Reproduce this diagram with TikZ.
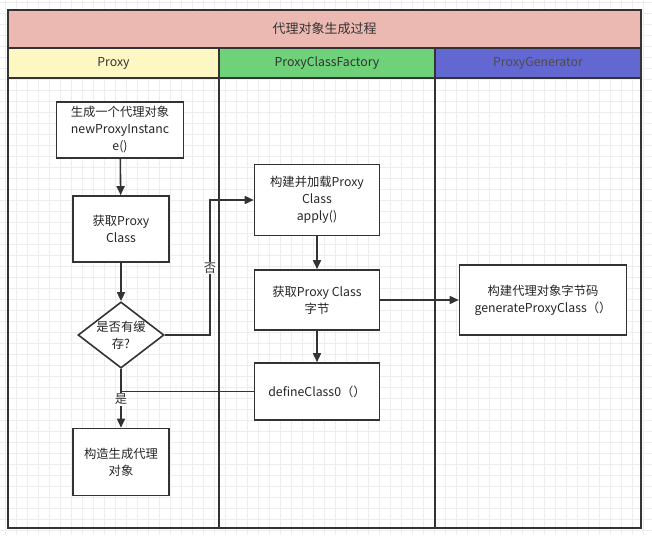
\documentclass[tikz,border=0pt]{standalone}
\usepackage{fontspec}
\setmainfont{Noto Sans CJK SC}
\usetikzlibrary{shapes.geometric,arrows.meta}

\begin{document}
\begin{tikzpicture}[x=1pt,y=-1pt,font=\fontsize{12.3}{17}\selectfont,align=center,
 box/.style={draw=black!80,line width=1.6pt,fill=white,inner sep=0pt,text=black!85},
 decision/.style={diamond,aspect=1.3,draw=black!80,line width=1.6pt,fill=white,inner sep=0pt,text=black!85},
 flow/.style={-{Triangle[length=9pt,width=8pt]},line width=1.6pt,draw=black!80},
 link/.style={line width=1.6pt,draw=black!80},
 lanehead/.style={draw=black!80,line width=1.6pt,inner sep=0pt,minimum height=30,text=black!80},
 lane/.style={draw=black!80,line width=1.6pt},
 gridline/.style={draw=black!7,line width=.6pt},
 tag/.style={fill=white,inner sep=1pt,text=black!80}]
\definecolor{titlepink}{HTML}{EBB9B1}
\definecolor{proxyyellow}{HTML}{FDF7C4}
\definecolor{factorygreen}{HTML}{6FD27A}
\definecolor{generatorblue}{HTML}{6367D1}
\useasboundingbox (0,0) rectangle (652,535);
\fill[white] (0,0) rectangle (652,535);
% faint background grid
\foreach \gx in {5,16,...,652} \draw[gridline] (\gx,0) -- (\gx,535);
\foreach \gy in {2,13,...,535} \draw[gridline] (0,\gy) -- (652,\gy);
% pool, title and lanes
\node[lanehead,fill=titlepink,minimum width=633,minimum height=38,font=\fontsize{13}{15}\selectfont] (pool) at (324.5,29) {代理对象生成过程};
\node[lanehead,fill=proxyyellow,minimum width=211] (hproxy) at (113.5,63) {Proxy};
\node[lanehead,fill=factorygreen,minimum width=216] (hfactory) at (327,63) {ProxyClassFactory};
\node[lanehead,fill=generatorblue,minimum width=206,text=black!70] (hgenerator) at (538,63) {ProxyGenerator};
\draw[lane] (8,78) rectangle (219,528);
\draw[lane] (219,78) rectangle (435,528);
\draw[lane] (435,78) rectangle (641,528);
% Proxy lane
\node[box,minimum width=127,minimum height=56] (create) at (120,130)
 {生成一个代理对象\\newProxyInstanc\\e()};
\node[box,minimum width=96,minimum height=66] (fetch) at (121,229)
 {获取Proxy\\Class};
\node[decision,minimum width=86,minimum height=66] (cache) at (121,335)
 {是否有缓\\存?};
\node[box,minimum width=96,minimum height=67] (build) at (121,462)
 {构造生成代理\\对象};
% ProxyClassFactory lane
\node[box,minimum width=125,minimum height=71] (load) at (317,200)
 {构建并加载Proxy\\Class\\apply()};
\node[box,minimum width=125,minimum height=60] (bytes) at (317,300)
 {获取Proxy Class\\字节};
\node[box,minimum width=125,minimum height=57] (define) at (317,391.5)
 {defineClass0（）};
% ProxyGenerator lane
\node[box,minimum width=167,minimum height=70] (gen) at (543,300)
 {构建代理对象字节码\\generateProxyClass（）};
\coordinate (miss) at (210,200);
\draw[flow] (create) -- (fetch);
\draw[flow] (fetch) -- (cache);
\draw[flow] (cache) -- node[tag,pos=.52] {是} (build);
\draw[flow] (cache.east) -| (miss) -- (load.west);
\node[tag] (misslabel) at (210,268) {否};
\draw[flow] (load) -- (bytes);
\draw[flow] (bytes) -- (define);
\draw[flow] (bytes) -- (gen);
\draw[link] (define.west) -- (define.west -| cache.south);
\end{tikzpicture}
\end{document}
